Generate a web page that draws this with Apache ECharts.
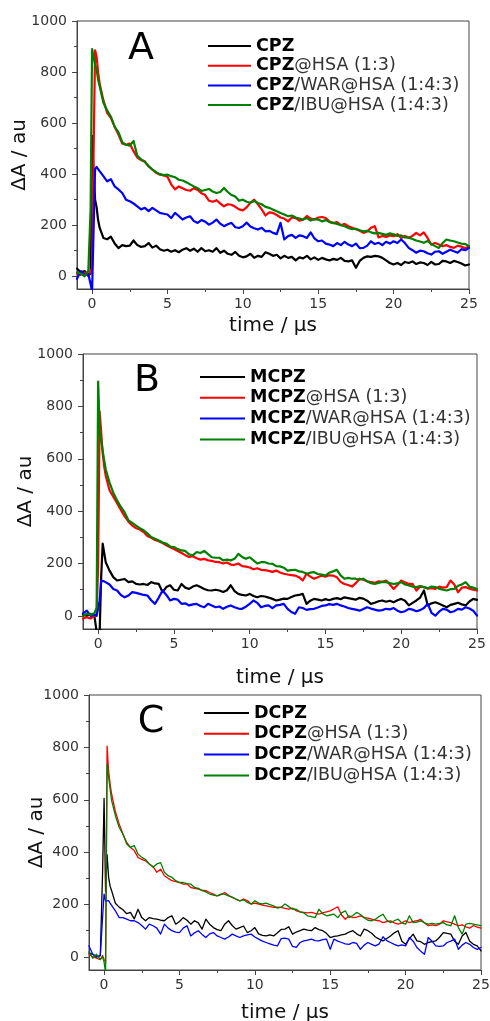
<!DOCTYPE html>
<html><head><meta charset="utf-8">
<script src="https://cdn.jsdelivr.net/npm/echarts@6/dist/echarts.min.js"></script>
<style>html,body{margin:0;padding:0;background:#fff}#c{width:490px;height:1021px}</style>
</head><body><div id="c"></div>
<script>
// time axis (µs), shared by all traces
const timeUs = [
 -1,-0.75,-0.5,-0.25,-0.1,0,0.1,0.2,0.3,0.4,0.5,
 0.75,1,1.25,1.5,1.75,2,2.25,2.5,2.75,3,
 3.25,3.5,3.75,4,4.25,4.5,4.75,5,5.25,5.5,
 5.75,6,6.25,6.5,6.75,7,7.25,7.5,7.75,8,
 8.25,8.5,8.75,9,9.25,9.5,9.75,10,10.25,10.5,
 10.75,11,11.25,11.5,11.75,12,12.25,12.5,12.75,13,
 13.25,13.5,13.75,14,14.25,14.5,14.75,15,15.25,15.5,
 15.75,16,16.25,16.5,16.75,17,17.25,17.5,17.75,18,
 18.25,18.5,18.75,19,19.25,19.5,19.75,20,20.25,20.5,
 20.75,21,21.25,21.5,21.75,22,22.25,22.5,22.75,23,
 23.25,23.5,23.75,24,24.25,24.5,24.75,25];

const xTickLabels = [0,5,10,15,20,25];
const xMinorTicks = [2.5,7.5,12.5,17.5,22.5];
const yTickLabels = [0,200,400,600,800,1000];
const yMinorTicks = [100,300,500,700,900];

// Panel A
const namesA = ['CPZ','CPZ@HSA (1:3)','CPZ/WAR@HSA (1:4:3)','CPZ/IBU@HSA (1:4:3)'];
const cpzA = [30,15,20,5,10,550,400,300,270,220,190,
 150,145,155,128,110,122,118,120,140,122,
 115,118,130,112,120,106,100,104,96,102,
 94,104,110,100,108,96,110,98,102,96,
 110,92,100,88,84,95,80,74,78,88,
 72,80,76,94,88,80,84,70,80,72,
 76,62,74,70,80,66,74,64,72,66,
 62,68,64,72,60,58,62,33,60,72,
 78,76,80,78,72,62,52,46,52,44,
 56,52,58,48,54,52,44,56,46,48,
 60,58,52,60,56,50,42,46];
const cpzHsaA = [10,5,15,0,20,30,480,885,860,800,755,
 690,640,620,585,555,520,515,520,490,465,
 455,450,430,418,405,398,395,390,360,340,
 352,345,338,335,345,338,325,318,296,292,
 298,285,274,282,280,272,262,258,270,288,
 300,282,262,238,250,248,240,230,226,215,
 230,228,218,222,236,226,222,230,232,228,
 214,208,212,200,205,196,190,184,178,170,
 175,190,196,152,158,154,160,157,165,150,
 158,151,158,170,160,172,150,124,130,124,
 118,122,115,111,120,116,110,118];
const cpzWarA = [-10,20,5,10,-30,-60,-60,420,428,420,412,
 392,372,380,352,340,326,300,294,285,274,
 262,268,255,268,258,248,245,242,228,248,
 236,222,230,235,216,209,220,214,202,210,
 222,206,196,204,209,192,189,196,210,195,
 188,183,190,176,178,170,165,209,144,157,
 162,150,160,157,150,172,148,137,140,128,
 124,118,130,122,135,124,118,128,110,111,
 120,137,126,131,122,135,128,137,130,144,
 130,111,102,92,100,98,90,85,96,98,
 88,96,104,98,92,106,102,111];
const cpzIbuA = [15,10,0,20,260,890,860,830,810,770,745,
 680,650,625,585,565,525,515,512,530,472,
 458,448,432,418,408,400,396,398,392,388,
 378,375,368,360,352,345,334,338,342,332,
 326,330,346,330,318,312,296,300,292,288,
 295,287,282,272,268,261,255,248,242,235,
 238,230,226,222,228,218,224,222,215,220,
 212,209,205,200,196,189,184,186,180,176,
 178,172,168,170,166,162,168,164,158,160,
 152,151,146,140,136,131,138,126,118,111,
 130,144,140,137,132,128,126,118];

// Panel B
const namesB = ['MCPZ','MCPZ@HSA (1:3)','MCPZ/WAR@HSA (1:4:3)','MCPZ/IBU@HSA (1:4:3)'];
const mcpzB = [5,0,8,0,-60,-60,-60,150,276,240,205,
 173,148,135,138,141,129,132,122,120,122,
 118,129,124,122,91,110,117,100,97,122,
 108,103,112,117,110,103,98,97,100,97,
 91,98,117,95,84,80,78,84,76,71,
 76,74,70,65,59,62,66,65,72,78,
 80,84,46,58,65,62,59,64,60,65,
 68,64,71,68,65,62,69,66,58,46,
 50,56,59,54,58,52,60,65,58,40,
 50,59,70,97,40,48,52,46,40,33,
 42,46,50,44,40,55,65,61];
const mcpzHsaB = [-10,-5,-10,0,5,200,780,700,620,570,535,
 480,455,430,405,380,360,345,335,330,320,
 305,298,290,285,278,270,262,255,248,240,
 232,225,228,220,215,218,212,210,206,205,
 200,204,196,195,200,190,188,185,178,182,
 176,175,172,168,173,166,161,158,156,154,
 148,135,161,150,142,148,154,150,155,154,
 148,130,122,118,112,125,142,138,132,129,
 126,132,130,135,120,103,118,135,128,122,
 122,97,112,110,104,106,103,112,108,110,
 135,120,90,108,110,104,100,97];
const mcpzWarB = [10,20,0,5,0,-5,60,135,135,132,130,
 120,103,97,80,71,78,91,88,84,80,
 78,60,46,70,97,80,59,65,62,46,
 48,40,44,46,38,33,46,40,33,36,
 27,35,40,33,28,27,35,46,59,50,
 33,38,40,30,40,42,46,27,15,8,
 33,30,23,26,27,32,38,40,45,42,
 46,40,36,30,27,24,20,26,33,28,
 24,20,22,27,25,30,20,14,18,27,
 24,18,22,30,46,12,1,16,27,24,
 14,18,27,24,33,28,20,1];
const mcpzIbuB = [0,8,5,10,30,895,710,671,630,594,560,
 510,470,441,416,395,365,355,345,335,327,
 315,301,295,288,280,276,265,263,255,250,
 248,235,231,244,240,248,236,224,222,222,
 212,215,212,218,237,225,218,224,212,200,
 205,205,200,199,190,189,184,173,175,176,
 170,168,161,165,167,160,158,154,165,170,
 176,155,142,145,142,142,138,142,132,125,
 122,126,130,129,125,122,124,129,120,116,
 112,110,114,110,106,112,110,104,100,97,
 102,103,115,120,129,112,108,103];

// Panel C
const namesC = ['DCPZ','DCPZ@HSA (1:3)','DCPZ/WAR@HSA (1:4:3)','DCPZ/IBU@HSA (1:4:3)'];
const dcpzC = [15,10,0,5,320,605,250,390,304,270,253,
 205,190,180,165,170,145,182,150,138,150,
 146,144,140,138,150,157,125,135,150,140,
 125,138,130,106,144,125,112,104,100,125,
 138,120,106,112,118,93,100,112,88,82,
 80,84,80,92,105,106,115,87,95,100,
 106,102,100,112,104,100,90,74,78,80,
 84,87,95,100,88,80,106,100,90,76,
 68,61,70,80,92,100,60,48,70,87,
 61,58,48,55,58,61,75,93,90,87,
 60,48,80,93,60,48,42,23];
const dcpzHsaC = [10,0,-5,-10,5,-10,-20,805,712,660,622,
 555,508,469,437,418,406,380,372,367,355,
 345,323,335,310,300,291,287,284,278,278,
 265,262,259,255,253,246,240,233,238,246,
 235,227,220,214,221,215,202,205,202,198,
 195,192,189,190,189,185,182,186,176,172,
 170,168,170,166,163,168,172,176,184,191,
 160,144,157,150,152,157,150,148,144,140,
 138,131,135,138,130,125,130,138,131,136,
 138,143,130,119,122,119,125,138,134,131,
 125,119,122,115,110,120,114,110];
const dcpzWarC = [42,10,0,5,150,240,214,220,215,205,202,
 176,150,150,144,138,138,131,120,106,125,
 119,110,87,125,110,100,95,93,110,119,
 80,92,100,86,74,88,93,80,74,68,
 76,87,80,74,80,84,87,76,68,60,
 55,50,45,42,70,72,68,40,36,55,
 61,64,68,62,61,66,68,29,68,60,
 55,50,48,55,52,29,45,55,48,42,
 50,77,62,55,48,42,46,42,74,60,
 36,22,10,74,60,42,40,42,55,60,
 68,29,45,55,48,36,29,36];
const dcpzIbuC = [20,-5,10,-10,0,-20,-60,737,686,640,597,
 540,495,469,431,418,425,393,380,372,355,
 342,355,360,323,310,304,291,284,284,280,
 278,265,262,253,248,240,236,233,240,240,
 233,228,221,214,218,208,202,214,205,202,
 205,200,195,186,190,202,192,182,182,172,
 168,157,154,150,182,165,157,160,163,150,
 168,176,150,158,170,162,150,140,138,144,
 155,163,140,131,138,144,130,125,157,131,
 133,138,130,125,128,125,128,131,122,119,
 157,112,87,125,128,125,122,119];

const colors = ['#000000','#ff0000','#0000ff','#008000'];
const FONT = 'DejaVu Sans';
const AX = '#444';

const panels = [
 {letter:'A', names:namesA, vals:[cpzA,cpzHsaA,cpzWarA,cpzIbuA],
  grid:{left:77,top:21,right:21,height:268}, lw:2.2,
  leg:{left:207,top:37,w:43,gap:1.7}, lp:[141,49], yGap:47, xGap:27},
 {letter:'B', names:namesB, vals:[mcpzB,mcpzHsaB,mcpzWarB,mcpzIbuB],
  grid:{left:83,top:354,right:13,height:275}, lw:2.2,
  leg:{left:199,top:368,w:45,gap:2.8}, lp:[147,381], yGap:47, xGap:39},
 {letter:'C', names:namesC, vals:[dcpzC,dcpzHsaC,dcpzWarC,dcpzIbuC],
  grid:{left:89,top:695,right:9,height:275}, lw:1.3,
  leg:{left:203,top:704,w:45,gap:2.8}, lp:[151,722], yGap:42, xGap:33}
];

const option = {animation:false, grid:[], xAxis:[], yAxis:[], series:[], legend:[], graphic:[]};
panels.forEach((p,i)=>{
  option.grid.push(Object.assign({show:true, borderColor:AX, borderWidth:1, containLabel:false, outerBoundsMode:'none'}, p.grid));
  option.xAxis.push({type:'value', gridIndex:i, min:-1, max:25, position:'bottom',
    axisLine:{show:true, onZero:false, lineStyle:{color:AX,width:1}},
    axisTick:{show:true, customValues:xTickLabels, length:5, lineStyle:{color:AX}},
    axisLabel:{customValues:xTickLabels, formatter:v=>String(v), fontFamily:FONT, fontSize:14, color:'#333', margin:8},
    splitLine:{show:false},
    name:'time / μs', nameLocation:'middle', nameGap:p.xGap, nameMoveOverlap:false,
    nameTextStyle:{fontFamily:FONT, fontSize:20, color:'#111'}});
  option.xAxis.push({type:'value', gridIndex:i, min:-1, max:25, position:'bottom',
    axisLine:{show:false, onZero:false}, axisLabel:{show:false}, splitLine:{show:false},
    axisTick:{show:true, customValues:xMinorTicks, length:3, lineStyle:{color:AX}}});
  option.yAxis.push({type:'value', gridIndex:i, min:-50, max:1000, position:'left',
    axisLine:{show:true, onZero:false, lineStyle:{color:AX,width:1}},
    axisTick:{show:true, customValues:yTickLabels, length:5, lineStyle:{color:AX}},
    axisLabel:{customValues:yTickLabels, formatter:v=>String(v), fontFamily:FONT, fontSize:14, color:'#333', margin:10},
    splitLine:{show:false},
    name:'ΔA / au', nameLocation:'middle', nameGap:p.yGap, nameRotate:90, nameMoveOverlap:false,
    nameTextStyle:{fontFamily:FONT, fontSize:20, color:'#111'}});
  option.yAxis.push({type:'value', gridIndex:i, min:-50, max:1000, position:'left',
    axisLine:{show:false, onZero:false}, axisLabel:{show:false}, splitLine:{show:false},
    axisTick:{show:true, customValues:yMinorTicks, length:3, lineStyle:{color:AX}}});
  p.names.forEach((nm,k)=>{
    const arr = p.vals[k];
    option.series.push({type:'line', name:nm, xAxisIndex:2*i, yAxisIndex:2*i,
      symbol:'none', showSymbol:false, clip:true,
      lineStyle:{color:colors[k], width:p.lw, join:'round', cap:'round'}, itemStyle:{color:colors[k]},
      data: timeUs.map((t,j)=>[t, arr[j]])});
  });
  option.legend.push({data:p.names, orient:'vertical', left:p.leg.left, top:p.leg.top,
    padding:0, itemWidth:p.leg.w, itemHeight:14, itemGap:p.leg.gap, selectedMode:false,
    itemStyle:{opacity:0}, lineStyle:{width:2, cap:'butt'},
    textStyle:{fontFamily:FONT, fontSize:17.5, color:'#333',
      rich:{b:{fontFamily:FONT, fontSize:17.5, fontWeight:'bold', color:'#000', lineHeight:20},
            r:{fontFamily:FONT, fontSize:17.5, color:'#333', lineHeight:20}}},
    formatter: function(name){
      const m = name.match(/^([A-Z]+)(.*)$/);
      return m[2] ? '{b|'+m[1]+'}{r|'+m[2]+'}' : '{b|'+m[1]+'}';
    }});
  option.graphic.push({type:'text', z:10, style:{text:p.letter, x:p.lp[0], y:p.lp[1],
    fill:'#000', fontFamily:FONT, fontSize:38, align:'center', verticalAlign:'middle'}});
});

const chart = echarts.init(document.getElementById('c'), null, {renderer:'canvas'});
chart.setOption(option);
</script></body></html>
